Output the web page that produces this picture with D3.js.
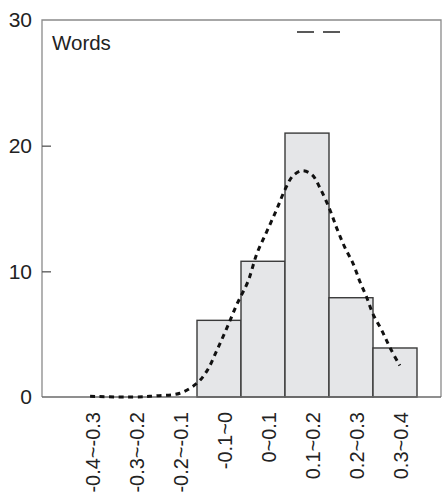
<!DOCTYPE html>
<html><head><meta charset="utf-8">
<script src="https://cdn.jsdelivr.net/npm/d3@7"></script>
<style>body{margin:0;background:#fff}svg{display:block;font-family:"Liberation Sans",Arial,sans-serif}</style>
</head><body><svg id="c" width="442" height="493"></svg>
<script>
const categories = ["-0.4~-0.3","-0.3~-0.2","-0.2~-0.1","-0.1~0","0~0.1","0.1~0.2","0.2~0.3","0.3~0.4"];
const counts = [0, 0, 0, 6.1, 10.8, 21, 7.9, 3.9];
const curveX = [-0.343,-0.245,-0.191,-0.139,-0.100,-0.077,-0.055,-0.032,-0.009,0.016,0.036,0.059,0.082,0.100,0.118,0.139,0.161,0.180,0.202,0.218,0.236,0.255,0.270,0.286,0.300,0.320,0.339,0.361];
const curveY = [0.05,0,0.1,0.3,1.1,2.1,3.7,5.5,7.4,9.2,11.4,13.2,15.0,16.5,17.6,18.0,17.7,16.6,14.9,13.4,11.9,10.6,9.2,7.9,6.6,5.3,3.9,2.5];
const yTicks = [0, 10, 20, 30];
const panelLabel = "Words";

const svg = d3.select("#c");
const L = 42, R = 441, T = 20, B = 397;
const y = d3.scaleLinear().domain([0, 30]).range([B, T]);
const xb = d3.scaleBand().domain(categories).range([65, 417]).padding(0);
const xl = d3.scaleLinear().domain([-0.4, 0.4]).range([65, 417]);

// frame
svg.append("path").attr("d", `M${L},${B}V${T}H${R}V${B}`)
  .attr("fill", "none").attr("stroke", "#8a8a8a").attr("stroke-width", 1.3);

// bars
svg.append("g").selectAll("rect").data(categories.map((c, i) => ({c, v: counts[i]})).filter(d => d.v > 0))
  .join("rect")
  .attr("x", d => xb(d.c)).attr("width", xb.bandwidth())
  .attr("y", d => y(d.v)).attr("height", d => y(0) - y(d.v))
  .attr("fill", "#e5e6e8").attr("stroke", "#3a3a3a").attr("stroke-width", 1.4);

// baseline
svg.append("line").attr("x1", L).attr("x2", R).attr("y1", B).attr("y2", B)
  .attr("stroke", "#6a6a6a").attr("stroke-width", 1.3);

// y axis
const yAxis = d3.axisLeft(y).tickValues(yTicks).tickSize(-9).tickPadding(10);
const gy = svg.append("g").attr("transform", `translate(${L},0)`).call(yAxis);
gy.select(".domain").remove();
gy.selectAll(".tick line").attr("stroke", "#555").attr("stroke-width", 1.3)
  .filter(d => d === 0 || d === 30).remove();
gy.selectAll(".tick text").attr("font-size", 21).attr("fill", "#222")
  .attr("font-family", "Liberation Sans, Arial, sans-serif");

// x axis labels
const xAxis = d3.axisBottom(xb).tickSize(0).tickPadding(0);
const gx = svg.append("g").attr("transform", `translate(0,${B})`).call(xAxis);
gx.select(".domain").remove();
gx.selectAll(".tick text")
  .attr("font-size", 20).attr("fill", "#222")
  .attr("font-family", "Liberation Sans, Arial, sans-serif")
  .attr("text-anchor", "end")
  .attr("transform", "translate(6,15) rotate(-90)")
  .attr("x", 0).attr("y", 0).attr("dy", "0.35em");

// curve
const line = d3.line().x(d => xl(d[0])).y(d => y(d[1])).curve(d3.curveCatmullRom);
svg.append("path").datum(curveX.map((v, i) => [v, curveY[i]]))
  .attr("d", line).attr("fill", "none").attr("stroke", "#111")
  .attr("stroke-width", 3).attr("stroke-dasharray", "5,4.5");

// legend marks
const lg = svg.append("g").attr("stroke", "#222").attr("stroke-width", 1.5);
lg.append("line").attr("x1", 297).attr("x2", 314).attr("y1", 32).attr("y2", 32);
lg.append("line").attr("x1", 323).attr("x2", 340).attr("y1", 32).attr("y2", 32);

// panel label
svg.append("text").attr("x", 52).attr("y", 50).attr("font-size", 20.5).attr("fill", "#222")
  .text(panelLabel);
</script></body></html>
